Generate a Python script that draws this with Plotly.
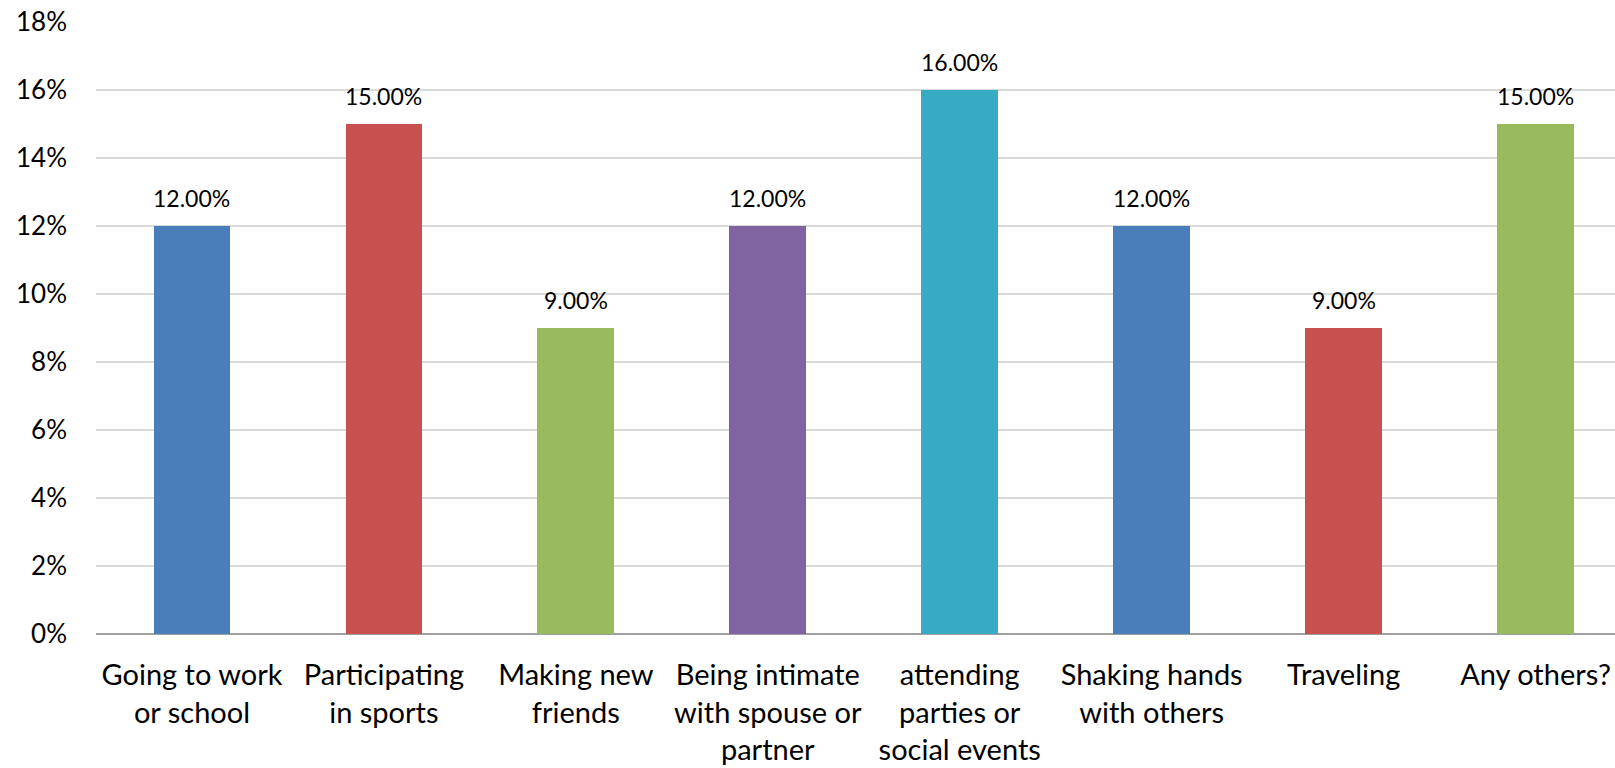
import plotly.graph_objects as go

# Survey responses: share of respondents per activity
categories = [
    "Going to work<br>or school",
    "Participating<br>in sports",
    "Making new<br>friends",
    "Being intimate<br>with spouse or<br>partner",
    "attending<br>parties or<br>social events",
    "Shaking hands<br>with others",
    "Traveling",
    "Any others?",
]
values = [12, 15, 9, 12, 16, 12, 9, 15]
bar_colors = ["#4A7EBB", "#C8504E", "#98BA5C", "#8064A1",
              "#37ABC4", "#4A7EBB", "#C8504E", "#98BA5C"]
y_ticks = [0, 2, 4, 6, 8, 10, 12, 14, 16, 18]
y_tick_labels = [f"{v}%" for v in y_ticks]

FONT = "Lato, 'Open Sans', sans-serif"

fig = go.Figure()
fig.add_trace(go.Bar(
    x=list(range(len(categories))),
    y=values,
    marker=dict(color=bar_colors, line=dict(width=0)),
    width=0.40,
    hoverinfo="skip",
))

# value labels above each bar
for i, v in enumerate(values):
    fig.add_annotation(
        x=i, y=v, text=f"{v:.2f}%", showarrow=False,
        yanchor="bottom", yshift=12,
        font=dict(family=FONT, size=23, color="#000000"),
    )

fig.update_layout(
    width=1615, height=768,
    margin=dict(l=96, r=0, t=22, b=134),
    paper_bgcolor="white", plot_bgcolor="white",
    showlegend=False,
    bargap=0,
    xaxis=dict(
        tickmode="array",
        tickvals=list(range(len(categories))),
        ticktext=categories,
        range=[-0.5, 7.414],
        showgrid=False,
        showline=False,
        zeroline=False,
        ticks="",
        ticklabelstandoff=21,
        tickfont=dict(family=FONT, size=29, color="#000000"),
    ),
    yaxis=dict(
        range=[0, 18],
        tickmode="array",
        tickvals=y_ticks,
        ticktext=y_tick_labels,
        showgrid=True,
        gridcolor="#D9D9D9",
        gridwidth=1.5,
        zeroline=True,
        zerolinecolor="#A0A0A0",
        zerolinewidth=2,
        showline=False,
        ticks="",
        ticklabelstandoff=28,
        tickfont=dict(family=FONT, size=26, color="#000000"),
    ),
)

fig.write_html("out.html")
